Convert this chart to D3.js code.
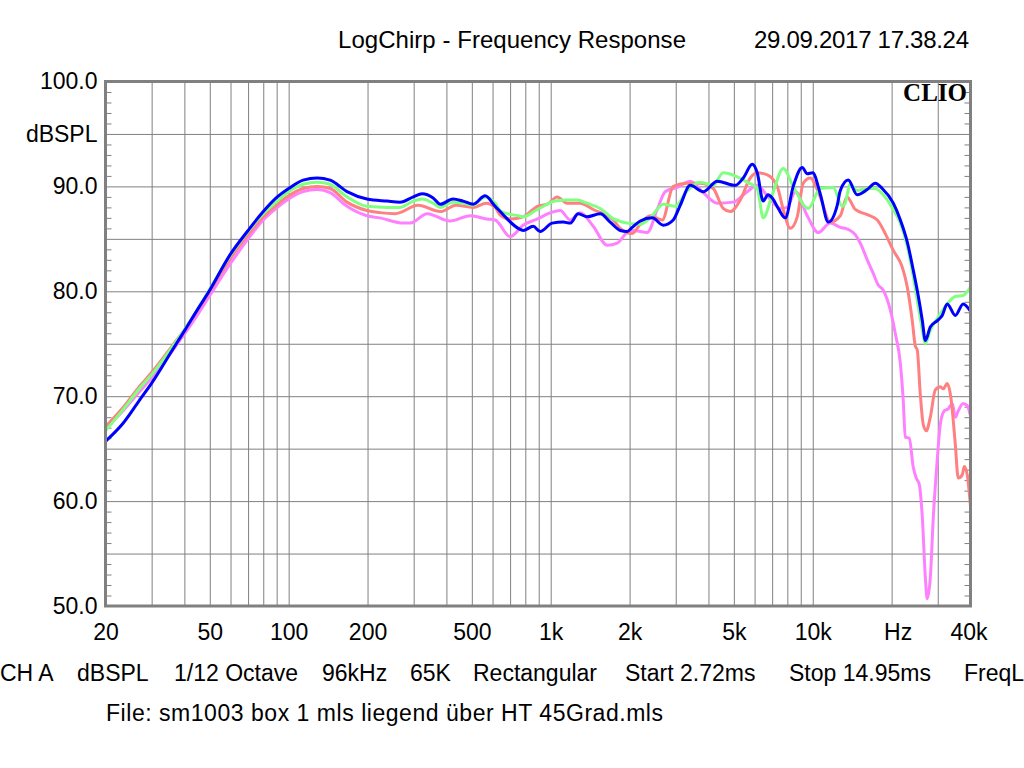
<!DOCTYPE html>
<html>
<head>
<meta charset="utf-8">
<script src="https://cdn.jsdelivr.net/npm/d3@7"></script>
<style>
  html, body { margin: 0; padding: 0; background: #fff; }
  svg { display: block; }
  text { font-family: "Liberation Sans", Arial, sans-serif; fill: #000; }
</style>
</head>
<body>
<svg id="chart" width="1024" height="768"></svg>
<script>
// ---------- data ----------
const title = "LogChirp - Frequency Response";
const dateText = "29.09.2017 17.38.24";
const brand = "CLIO";
const infoItems = ["CH A", "dBSPL", "1/12 Octave", "96kHz", "65K", "Rectangular", "Start 2.72ms", "Stop 14.95ms", "FreqL"];
const fileText = "File: sm1003 box 1 mls liegend über HT 45Grad.mls";

const freqTicks = [20, 50, 100, 200, 500, 1000, 2000, 5000, 10000, 20000, 40000];
const freqTickLabels = ["20", "50", "100", "200", "500", "1k", "2k", "5k", "10k", "Hz", "40k"];
const gridFreqs = [30, 40, 50, 60, 70, 80, 90, 100, 200, 300, 400, 500, 600, 700, 800, 900,
  1000, 2000, 3000, 4000, 5000, 6000, 7000, 8000, 9000, 10000, 20000, 30000];
const dbTicks = [50, 60, 70, 80, 90, 95, 100];
const dbTickLabels = ["50.0", "60.0", "70.0", "80.0", "90.0", "dBSPL", "100.0"];
const dbGrid = [55, 60, 65, 70, 75, 80, 85, 90, 95];

const seriesBlue = [
[20,65.7],[23.3,67.4],[27.1,69.7],[30.1,71.3],[36.2,74.5],[40.2,76.3],[45,78.3],[49.7,80.0],[59.8,83.5],[70,85.8],[80,87.6],[89.6,88.9],[100,89.8],[113.6,90.6],[128.5,90.8],[144,90.6],[167,89.5],[199,88.8],[238,88.6],[266,88.5],[299,89.0],[323,89.3],[356,88.9],[379,88.3],[424,88.8],[463,88.6],[506,88.3],[562,89.1],[614,88.1],[659,87.3],[682,86.9],[752,86.0],[785,85.8],[858,86.2],[912,85.7],[1013,86.5],[1116,86.6],[1187,86.5],[1273,87.4],[1378,87.1],[1545,87.4],[1687,86.6],[1842,85.8],[1959,85.7],[2047,86.1],[2196,86.7],[2440,87.0],[2688,86.3],[2935,86.8],[3121,88.2],[3407,90.1],[3820,89.5],[4320,90.5],[5060,90.1],[5430,90.8],[5877,92.1],[6140,91.3],[6473,88.6],[6750,89.2],[7004,88.9],[7386,87.9],[7853,87.0],[8425,90.0],[9120,91.8],[9528,91.2],[10000,91.3],[10680,89.3],[11460,86.6],[12400,88.2],[12740,89.6],[13660,90.6],[14780,89.2],[16140,89.7],[17320,90.3],[18420,89.8],[20300,88.4],[21600,86.8],[22950,84.7],[24200,82.0],[25300,79.5],[26200,77.2],[26900,75.3],[28100,76.6],[29900,77.2],[31200,77.7],[32600,78.8],[35000,77.7],[37500,78.8],[40000,78.1]
];
const seriesGreen = [
[20,66.7],[23.3,68.7],[27.1,70.8],[30.1,72.1],[36.2,74.8],[40.2,76.4],[45,78.3],[49.7,80.1],[59.8,83.4],[70,85.7],[80,87.4],[89.6,88.5],[100,89.5],[113.6,90.2],[128.5,90.4],[144,90.2],[167,89.0],[199,88.1],[238,88.0],[266,88.0],[299,88.6],[323,88.8],[356,88.4],[379,88.0],[424,88.5],[463,88.4],[506,88.2],[562,89.0],[614,88.4],[640,87.7],[682,87.4],[752,87.2],[785,87.1],[890,87.8],[1040,88.6],[1160,88.7],[1260,88.7],[1378,88.4],[1545,87.9],[1740,86.9],[1959,86.5],[2196,86.4],[2398,87.0],[2688,88.3],[2987,88.1],[3319,89.6],[3721,90.4],[4171,90.1],[4554,91.3],[5060,91.0],[5623,90.4],[6140,89.8],[6473,87.0],[7004,89.2],[7718,91.7],[8425,90.0],[9612,87.9],[10680,89.8],[11970,89.9],[12960,88.1],[13300,88.4],[13900,90.2],[14780,89.6],[16140,89.8],[17320,89.8],[18420,89.3],[20300,87.8],[21600,86.5],[22950,84.3],[24200,81.4],[25300,78.5],[26200,76.3],[26900,75.0],[28100,76.3],[29900,77.4],[32600,78.8],[35000,79.5],[37500,79.6],[40000,80.4]
];
const seriesRed = [
[20,67.1],[23.3,68.9],[27.1,71.0],[30.1,72.3],[36.2,74.9],[40.2,76.4],[45,78.2],[49.7,79.9],[59.8,83.1],[70,85.4],[80,87.1],[89.6,88.2],[100,89.1],[113.6,89.8],[128.5,90.0],[144,89.8],[167,88.5],[199,87.7],[223,87.5],[255,87.4],[312,88.2],[379,87.6],[435,88.2],[506,88.0],[567,88.4],[614,88.0],[640,87.3],[700,86.9],[785,87.1],[890,88.1],[970,88.3],[1059,89.0],[1156,88.4],[1296,88.4],[1453,87.8],[1732,86.8],[1842,86.0],[2047,85.5],[2196,86.4],[2398,87.2],[2665,86.8],[2935,90.0],[3319,90.3],[3721,90.3],[4171,89.8],[4554,87.9],[4842,87.6],[5288,88.7],[5775,90.8],[6140,91.3],[6705,91.1],[7318,90.0],[7718,87.8],[8207,86.0],[8727,87.1],[9199,90.3],[9784,90.8],[10680,89.0],[11660,86.6],[12740,87.2],[13500,89.0],[14530,87.8],[16140,87.3],[17630,86.8],[18910,85.5],[20300,83.9],[21960,82.3],[22950,80.4],[23980,77.2],[24620,74.8],[25060,74.4],[25730,70.2],[26410,67.3],[27120,66.7],[28100,68.0],[29360,70.6],[30670,70.9],[31480,70.7],[32600,71.2],[33780,69.6],[35000,65.4],[35920,62.2],[37210,62.5],[37870,63.3],[38880,62.5],[40000,59.5]
];
const seriesPink = [
[20,66.9],[23.3,68.6],[27.1,70.5],[30.1,71.8],[36.2,74.4],[40.2,76.0],[45,77.8],[49.7,79.5],[59.8,82.6],[70,85.0],[80,86.8],[89.6,87.9],[100,88.8],[113.6,89.5],[128.5,89.7],[144,89.4],[167,88.1],[199,87.2],[223,87.0],[274,86.5],[291,86.5],[338,87.4],[413,86.7],[493,87.2],[570,86.9],[614,86.8],[700,85.2],[785,86.3],[890,86.9],[978,87.4],[1087,87.7],[1187,86.8],[1296,87.5],[1453,86.2],[1643,84.4],[1794,84.6],[1959,85.6],[2065,85.8],[2335,85.6],[2550,87.8],[2735,89.5],[3040,89.9],[3407,90.5],[3820,89.4],[4320,88.4],[4970,88.5],[5623,89.5],[6140,90.1],[6705,89.1],[7550,87.9],[7970,88.0],[8600,89.5],[9528,87.2],[10500,85.6],[11660,86.5],[12740,86.1],[13660,85.9],[14530,85.4],[15180,84.6],[16140,83.0],[17020,81.7],[17780,80.6],[18580,80.1],[19960,77.8],[20650,76.0],[21600,73.1],[22150,69.6],[22550,66.1],[23350,66.0],[24200,63.2],[24830,62.2],[25500,61.6],[26200,58.4],[26900,52.7],[27350,50.7],[28100,52.7],[28840,58.4],[29900,64.1],[30670,67.3],[31760,68.6],[32900,68.8],[34080,69.3],[35000,68.0],[35920,68.6],[37500,69.3],[38880,69.1],[40000,68.1]
];
const seriesList = [
  { data: seriesPink,  color: "#ff80ff" },
  { data: seriesRed,   color: "#ff8080" },
  { data: seriesGreen, color: "#80ff80" },
  { data: seriesBlue,  color: "#0000ff" }
];

// ---------- layout ----------
const L = 105.5, R = 970.5, T = 81.5, B = 606;
const svg = d3.select("#chart");
const x = d3.scaleLog().domain([20, 40000]).range([L, R]);
const y = d3.scaleLinear().domain([50, 100]).range([B, T]);
const gridColor = "#808080";

// vertical grid
const gx = svg.append("g").attr("transform", `translate(0,${B})`)
  .call(d3.axisBottom(x).tickValues(gridFreqs).tickSize(-(B - T)).tickFormat(""));
gx.select(".domain").remove();
gx.selectAll("line").attr("stroke", gridColor);

// horizontal grid
const gy = svg.append("g").attr("transform", `translate(${L},0)`)
  .call(d3.axisLeft(y).tickValues(dbGrid).tickSize(-(R - L)).tickFormat(""));
gy.select(".domain").remove();
gy.selectAll("line").attr("stroke", gridColor);

// minor ticks (every dB) left and right
const minor = d3.range(51, 100).filter(v => v % 5 !== 0);
const ml = svg.append("g").attr("transform", `translate(${L},0)`)
  .call(d3.axisLeft(y).tickValues(minor).tickSize(-6).tickFormat(""));
ml.select(".domain").remove();
ml.selectAll("line").attr("stroke", gridColor);
const mr = svg.append("g").attr("transform", `translate(${R},0)`)
  .call(d3.axisRight(y).tickValues(minor).tickSize(-6).tickFormat(""));
mr.select(".domain").remove();
mr.selectAll("line").attr("stroke", gridColor);

// curves
const line = d3.line()
  .x(d => x(d[0]))
  .y(d => y(d[1]))
  .curve(d3.curveMonotoneX);
svg.append("clipPath").attr("id", "pc").append("rect")
  .attr("x", L).attr("y", T).attr("width", R - L).attr("height", B - T);
svg.append("g").attr("clip-path", "url(#pc)")
  .selectAll("path").data(seriesList).join("path")
  .attr("d", s => line(s.data))
  .attr("fill", "none")
  .attr("stroke", s => s.color)
  .attr("stroke-width", 3)
  .attr("stroke-linejoin", "round");

// frame
svg.append("rect")
  .attr("x", L).attr("y", T).attr("width", R - L).attr("height", B - T)
  .attr("fill", "none").attr("stroke", gridColor).attr("stroke-width", 3);

// x labels
const xl = svg.append("g").attr("transform", `translate(0,${B})`)
  .call(d3.axisBottom(x).tickValues(freqTicks).tickSize(0).tickPadding(17.5)
    .tickFormat((d, i) => freqTickLabels[i]));
xl.select(".domain").remove();
xl.selectAll("text").attr("font-size", 23).attr("font-family", "Liberation Sans, Arial, sans-serif")
  .attr("fill", "#000")
  .attr("dx", (d, i) => freqTickLabels[i] === "Hz" ? 6 : (freqTickLabels[i] === "40k" ? -2 : 0));

// y labels
const yl = svg.append("g").attr("transform", `translate(${L},0)`)
  .call(d3.axisLeft(y).tickValues(dbTicks).tickSize(0).tickPadding(8)
    .tickFormat((d, i) => dbTickLabels[i]));
yl.select(".domain").remove();
yl.selectAll("text").attr("font-size", 23).attr("font-family", "Liberation Sans, Arial, sans-serif")
  .attr("fill", "#000");

// title & date
svg.append("text").attr("x", 338).attr("y", 48).attr("font-size", 24)
  .attr("textLength", 348).attr("lengthAdjust", "spacing").text(title);
svg.append("text").attr("x", 754).attr("y", 48).attr("font-size", 24)
  .attr("textLength", 215).attr("lengthAdjust", "spacing").text(dateText);

// CLIO brand
svg.append("text").attr("x", 967).attr("y", 101).attr("text-anchor", "end")
  .attr("font-size", 25).attr("font-weight", "bold")
  .style("font-family", "'Liberation Serif', 'Times New Roman', serif").text(brand);

// info line
const infoX = [0, 77, 174, 322, 410, 473, 625, 789, 964];
svg.append("g").selectAll("text").data(infoItems).join("text")
  .attr("x", (d, i) => infoX[i]).attr("y", 681).attr("font-size", 23).text(d => d);

svg.append("text").attr("x", 106).attr("y", 721).attr("font-size", 23)
  .attr("textLength", 557).attr("lengthAdjust", "spacing").text(fileText);
</script>
</body>
</html>
